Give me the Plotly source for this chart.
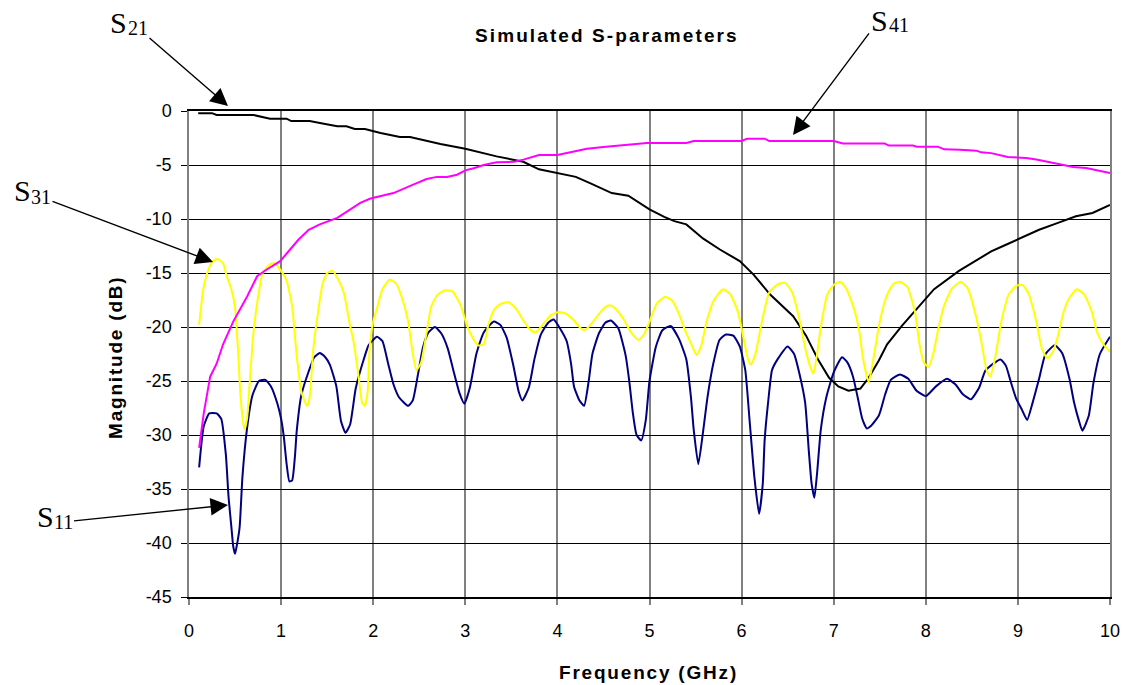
import plotly.graph_objects as go

# ---- S11 (input return loss) ----
s11_freq = [0.11, 0.16, 0.22, 0.30, 0.35, 0.40, 0.43, 0.46, 0.48, 0.50, 0.52, 0.55, 0.58, 0.63, 0.69,
            0.76, 0.83, 0.89, 0.96, 1.00, 1.03, 1.06, 1.09, 1.12, 1.15, 1.17, 1.22, 1.30, 1.36, 1.42,
            1.48, 1.53, 1.60, 1.65, 1.70, 1.75, 1.81, 1.89, 1.95, 2.04, 2.10, 2.16, 2.22, 2.28, 2.38,
            2.43, 2.49, 2.54, 2.60, 2.67, 2.74, 2.81, 2.87, 2.94, 2.99, 3.05, 3.12, 3.20, 3.31, 3.38,
            3.45, 3.52, 3.58, 3.62, 3.69, 3.75, 3.82, 3.90, 3.96, 4.04, 4.10, 4.15, 4.18, 4.24, 4.29,
            4.34, 4.38, 4.45, 4.52, 4.58, 4.66, 4.74, 4.78, 4.82, 4.86, 4.91, 4.96, 5.00, 5.07, 5.14,
            5.23, 5.32, 5.40, 5.45, 5.48, 5.53, 5.58, 5.63, 5.69, 5.76, 5.83, 5.91, 5.98, 6.04, 6.09,
            6.14, 6.19, 6.23, 6.25, 6.29, 6.33, 6.39, 6.50, 6.57, 6.63, 6.69, 6.73, 6.76, 6.79, 6.82,
            6.86, 6.92, 7.00, 7.09, 7.15, 7.21, 7.26, 7.31, 7.36, 7.40, 7.49, 7.56, 7.62, 7.72, 7.81,
            7.90, 8.00, 8.11, 8.23, 8.32, 8.40, 8.49, 8.58, 8.65, 8.81, 8.87, 8.92, 8.98, 9.04, 9.10,
            9.16, 9.23, 9.30, 9.40, 9.48, 9.56, 9.61, 9.66, 9.70, 9.77, 9.82, 9.89, 10.00]
s11_db = [-33.0, -29.2, -28.0, -28.0, -28.5, -31.8, -35.8, -38.5, -40.3, -41.0, -40.2, -38.5, -33.9, -29.4, -26.3,
          -25.0, -24.9, -25.5, -27.1, -28.5, -30.2, -32.7, -34.3, -34.2, -32.0, -29.6, -26.3, -24.1, -22.8, -22.4,
          -22.8, -23.5, -25.5, -28.7, -29.8, -29.0, -25.7, -23.2, -21.7, -20.9, -21.3, -23.3, -25.3, -26.5, -27.3,
          -26.8, -24.2, -21.9, -20.5, -20.0, -20.6, -22.0, -24.0, -26.2, -27.1, -25.6, -22.5, -20.5, -19.5, -19.8,
          -21.0, -23.5, -26.0, -26.8, -25.6, -23.0, -20.7, -19.6, -19.3, -20.3, -21.3, -23.5, -25.5, -26.8, -27.3,
          -25.0, -22.5, -20.6, -19.6, -19.4, -20.1, -22.6, -25.0, -28.0, -30.0, -30.5, -28.6, -25.0, -21.8, -20.3,
          -19.9, -21.1, -23.0, -26.5, -29.5, -32.7, -29.8, -26.5, -23.5, -21.2, -20.7, -20.8, -21.8, -24.0, -29.0,
          -34.0, -37.3, -34.5, -30.5, -26.8, -24.0, -23.0, -21.8, -22.5, -24.4, -27.0, -31.5, -34.5, -35.8, -33.5,
          -29.5, -26.5, -24.2, -22.8, -23.3, -24.6, -26.5, -28.5, -29.4, -29.2, -28.2, -26.2, -24.9, -24.4, -24.8,
          -25.9, -26.4, -25.5, -24.8, -25.3, -26.2, -26.7, -25.6, -24.0, -23.0, -23.6, -25.0, -26.6, -27.6, -28.6,
          -27.0, -24.8, -22.5, -21.7, -22.4, -24.8, -27.0, -28.6, -29.6, -28.2, -25.2, -22.5, -20.9]

# ---- S21 (through) ----
s21_freq = [0.10, 0.25, 0.30, 0.70, 0.88, 1.06, 1.11, 1.31, 1.45, 1.61, 1.71, 1.80, 1.91, 2.08, 2.29,
            2.40, 2.73, 3.00, 3.34, 3.63, 3.80, 4.00, 4.20, 4.36, 4.59, 4.77, 5.00, 5.16, 5.27, 5.40,
            5.58, 5.76, 5.98, 6.13, 6.31, 6.56, 6.70, 6.83, 6.95, 7.05, 7.16, 7.29, 7.38, 7.49, 7.58,
            7.74, 7.92, 8.09, 8.36, 8.54, 8.71, 8.84, 9.00, 9.13, 9.23, 9.42, 9.52, 9.63, 9.81, 10.00]
s21_db = [-0.20, -0.20, -0.37, -0.37, -0.71, -0.71, -0.93, -0.93, -1.15, -1.42, -1.42, -1.67, -1.67, -2.04, -2.40,
          -2.40, -3.06, -3.50, -4.20, -4.70, -5.40, -5.74, -6.10, -6.70, -7.60, -7.84, -9.10, -9.80, -10.20, -10.50,
          -11.80, -12.80, -13.90, -15.15, -17.00, -19.00, -20.80, -23.00, -24.70, -25.50, -25.90, -25.70, -24.70, -23.10, -21.60,
          -19.90, -18.10, -16.50, -14.80, -13.90, -13.00, -12.50, -11.90, -11.45, -11.00, -10.40, -10.10, -9.75, -9.44, -8.70]

# ---- S31 (isolation) ----
s31_freq = [0.11, 0.155, 0.21, 0.26, 0.31, 0.37, 0.41, 0.46, 0.50, 0.535, 0.56, 0.60, 0.63, 0.66, 0.70,
            0.74, 0.80, 0.88, 0.93, 1.00, 1.06, 1.12, 1.17, 1.22, 1.28, 1.31, 1.35, 1.39, 1.45, 1.50,
            1.56, 1.62, 1.68, 1.74, 1.79, 1.84, 1.88, 1.91, 1.94, 1.96, 2.00, 2.04, 2.10, 2.18, 2.25,
            2.32, 2.38, 2.43, 2.47, 2.52, 2.58, 2.63, 2.70, 2.78, 2.86, 2.95, 3.02, 3.08, 3.14, 3.20,
            3.25, 3.32, 3.40, 3.47, 3.55, 3.63, 3.70, 3.76, 3.83, 3.93, 4.02, 4.10, 4.18, 4.25, 4.29,
            4.36, 4.45, 4.53, 4.58, 4.64, 4.72, 4.80, 4.88, 4.94, 5.00, 5.08, 5.17, 5.25, 5.32, 5.40,
            5.46, 5.51, 5.56, 5.62, 5.70, 5.80, 5.88, 5.96, 6.02, 6.07, 6.10, 6.15, 6.22, 6.30, 6.40,
            6.47, 6.55, 6.62, 6.70, 6.75, 6.78, 6.82, 6.86, 6.93, 7.00, 7.07, 7.14, 7.22, 7.28, 7.32,
            7.38, 7.43, 7.50, 7.58, 7.65, 7.72, 7.80, 7.88, 7.93, 7.98, 8.03, 8.08, 8.14, 8.20, 8.28,
            8.38, 8.46, 8.53, 8.60, 8.66, 8.70, 8.75, 8.82, 8.90, 8.98, 9.05, 9.12, 9.20, 9.26, 9.32,
            9.38, 9.43, 9.50, 9.56, 9.64, 9.72, 9.80, 9.86, 9.92, 10.00]
s31_db = [-19.8, -16.5, -14.7, -13.9, -13.7, -14.1, -15.3, -16.5, -18.2, -22.5, -26.5, -29.5, -28.5, -25.0, -20.5,
          -17.8, -15.0, -14.2, -14.1, -14.8, -15.7, -18.1, -22.7, -26.0, -27.3, -26.5, -22.0, -19.3, -16.0, -15.0,
          -14.8, -15.6, -16.8, -19.5, -21.5, -24.5, -27.0, -27.3, -26.0, -22.1, -19.5, -18.3, -16.5, -15.6, -16.0,
          -17.5, -19.5, -22.5, -24.0, -23.3, -20.5, -18.1, -17.0, -16.6, -16.7, -18.0, -19.9, -21.0, -21.7, -21.6,
          -19.8, -18.3, -17.8, -17.7, -18.3, -19.4, -20.2, -20.5, -19.9, -18.9, -18.6, -18.8, -19.4, -20.1, -20.3,
          -19.8, -18.8, -18.1, -18.0, -18.4, -19.3, -20.5, -21.2, -20.7, -19.5, -17.8, -17.2, -17.6, -18.8, -20.6,
          -21.7, -22.6, -21.8, -19.5, -17.5, -16.5, -17.0, -18.6, -21.0, -23.0, -23.5, -22.5, -19.5, -16.8, -16.0,
          -15.9, -16.8, -19.0, -22.3, -23.8, -24.3, -22.5, -20.0, -17.0, -16.1, -15.8, -16.5, -18.3, -20.5, -23.0,
          -25.1, -23.0, -19.5, -17.0, -16.0, -15.8, -16.3, -18.5, -21.5, -23.3, -23.7, -22.5, -20.0, -18.0, -16.5,
          -15.8, -16.5, -18.5, -21.2, -24.0, -24.6, -23.0, -19.5, -17.0, -16.2, -16.1, -17.0, -19.5, -22.0, -22.9,
          -22.3, -21.0, -18.5, -17.3, -16.5, -17.0, -18.5, -20.5, -21.5, -22.3]

# ---- S41 (coupled) ----
s41_freq = [0.11, 0.16, 0.23, 0.30, 0.37, 0.48, 0.63, 0.74, 0.84, 0.99, 1.10, 1.19, 1.30, 1.42, 1.61,
            1.75, 1.86, 1.97, 2.08, 2.22, 2.44, 2.58, 2.69, 2.80, 2.91, 3.00, 3.09, 3.20, 3.34, 3.53,
            3.63, 3.71, 3.80, 4.00, 4.20, 4.32, 4.50, 4.76, 4.97, 5.40, 5.48, 6.00, 6.06, 6.25, 6.30,
            7.00, 7.10, 7.55, 7.60, 7.86, 7.90, 8.13, 8.20, 8.37, 8.55, 8.60, 8.71, 8.89, 9.09, 9.20,
            9.42, 9.60, 9.74, 10.00]
s41_db = [-31.2, -28.0, -24.6, -23.4, -21.6, -19.5, -17.2, -15.3, -14.7, -13.9, -12.8, -11.9, -11.0, -10.5, -9.9,
          -9.1, -8.5, -8.1, -7.9, -7.6, -6.8, -6.3, -6.1, -6.1, -5.9, -5.5, -5.3, -5.0, -4.75, -4.7,
          -4.5, -4.3, -4.07, -4.07, -3.73, -3.5, -3.33, -3.1, -2.96, -2.96, -2.78, -2.78, -2.56, -2.56, -2.78,
          -2.78, -3.0, -3.0, -3.2, -3.2, -3.3, -3.3, -3.55, -3.58, -3.67, -3.83, -3.9, -4.26, -4.35, -4.5,
          -4.9, -5.19, -5.28, -5.74]

# ---- axis ticks ----
x_ticks = list(range(0, 11))
y_ticks = list(range(0, -50, -5))

SANS = "Liberation Sans, Arial, sans-serif"
SERIF = "Liberation Serif, Times New Roman, serif"

# plot area in pixels (left, top, width, height)
PL, PT, PW, PH = 189, 111, 921, 486


def px_x(px):
    return (px - PL) / PW


def px_y(py):
    return (PT + PH - py) / PH


def spaced(txt, px, size):
    return f'<span style="letter-spacing:{px}px;font-size:{size}px">{txt}</span>'


fig = go.Figure()
fig.add_trace(go.Scatter(x=s11_freq, y=s11_db, mode="lines", name="S11",
                         line=dict(color="#000080", width=2, shape="spline", smoothing=0.5)))
fig.add_trace(go.Scatter(x=s21_freq, y=s21_db, mode="lines", name="S21",
                         line=dict(color="#000000", width=2)))
fig.add_trace(go.Scatter(x=s31_freq, y=s31_db, mode="lines", name="S31",
                         line=dict(color="#FFFF00", width=2, shape="spline", smoothing=0.5)))
fig.add_trace(go.Scatter(x=s41_freq, y=s41_db, mode="lines", name="S41",
                         line=dict(color="#FF00FF", width=2)))

fig.update_layout(
    width=1125, height=685,
    margin=dict(l=PL, r=1125 - PL - PW, t=PT, b=685 - PT - PH),
    paper_bgcolor="white", plot_bgcolor="white",
    showlegend=False,
    font=dict(family=SANS, size=18, color="black"),
)

fig.update_xaxes(
    range=[0, 10], tickvals=x_ticks, ticktext=[str(v) for v in x_ticks],
    showgrid=True, gridcolor="#808080", gridwidth=1.5,
    showline=True, linecolor="black", linewidth=1.5, mirror=True,
    ticks="outside", ticklen=6, tickcolor="#808080", tickwidth=1.5,
    ticklabelstandoff=11, zeroline=False, automargin=False,
    tickfont=dict(family=SANS, size=18, color="black"),
)
fig.update_yaxes(
    range=[-45, 0], tickvals=y_ticks, ticktext=[str(v) for v in y_ticks],
    showgrid=True, gridcolor="black", gridwidth=1.2,
    showline=True, linecolor="#808080", linewidth=1.5, mirror=True,
    ticks="outside", ticklen=6, tickcolor="black", tickwidth=1.2,
    ticklabelstandoff=6, zeroline=False, automargin=False,
    tickfont=dict(family=SANS, size=18, color="black"),
)

# Title and axis titles (pixel centres)
annotations = [
    dict(text="<b>" + spaced("Simulated S-parameters", 2.1, 19) + "</b>", x=607, y=35),
    dict(text="<b>" + spaced("Frequency (GHz)", 1.8, 19) + "</b>", x=648, y=672),
    dict(text="<b>" + spaced("Magnitude (dB)", 1.8, 19) + "</b>", x=115, y=358, textangle=-90),
]
for a in annotations:
    fig.add_annotation(
        text=a["text"], xref="paper", yref="paper",
        x=px_x(a["x"]), y=px_y(a["y"]),
        xanchor="center", yanchor="middle", showarrow=False,
        textangle=a.get("textangle", 0), font=dict(family=SANS, size=19, color="black"),
    )

# Curve labels: "S" glyph centre, index centre, arrow tip, and which part the arrow leaves from
labels = [
    # idx,  S centre,   index centre, arrow tip,   arrow from
    ("21", (118, 22), (138, 28), (228, 106), "idx"),
    ("41", (879, 20), (899, 25), (793, 135), "S"),
    ("31", (22, 190), (41, 197), (213, 262), "idx"),
    ("11", (45, 516), (63, 522), (228, 505), "idx"),
]
S_SIZE, IDX_SIZE = 30, 20
for idx, s_c, i_c, tip, src in labels:
    parts = [("S", s_c, S_SIZE), (idx, i_c, IDX_SIZE)]
    for txt, (cx, cy), size in parts:
        is_src = (src == "S" and txt == "S") or (src == "idx" and txt == idx)
        if is_src:
            fig.add_annotation(
                text=txt, xref="paper", yref="paper",
                x=px_x(tip[0]), y=px_y(tip[1]),
                ax=cx - tip[0], ay=cy - tip[1], showarrow=True,
                arrowhead=2, arrowsize=2.5, arrowwidth=1.4, arrowcolor="black",
                font=dict(family=SERIF, size=size, color="black"),
            )
        else:
            fig.add_annotation(
                text=txt, xref="paper", yref="paper",
                x=px_x(cx), y=px_y(cy), xanchor="center", yanchor="middle",
                showarrow=False, font=dict(family=SERIF, size=size, color="black"),
            )

fig.write_html("out.html")
